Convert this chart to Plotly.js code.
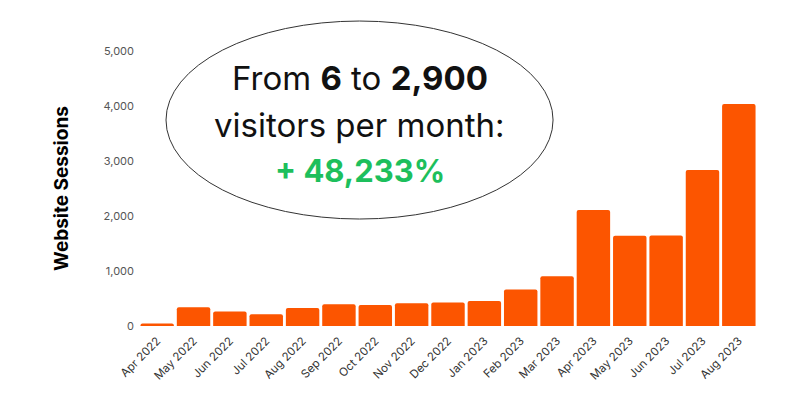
<!DOCTYPE html>
<html>
<head>
<meta charset="utf-8">
<script src="https://cdn.plot.ly/plotly-3.0.1.min.js"></script>
<style>html,body{margin:0;padding:0;background:#fff}#chart{width:800px;height:400px}</style>
</head>
<body>
<div id="chart"></div>
<script>
const months = ["Apr 2022","May 2022","Jun 2022","Jul 2022","Aug 2022","Sep 2022","Oct 2022","Nov 2022","Dec 2022","Jan 2023","Feb 2023","Mar 2023","Apr 2023","May 2023","Jun 2023","Jul 2023","Aug 2023"];
const sessions = [45, 340, 262, 213, 328, 395, 383, 413, 426, 455, 663, 905, 2107, 1639, 1646, 2836, 4038];
const yTicks = [0, 1000, 2000, 3000, 4000, 5000];
const yTickText = ["0", "1,000", "2,000", "3,000", "4,000", "5,000"];

const trace = {
  type: "bar",
  x: months,
  y: sessions,
  marker: {color: "#fc5500", line: {width: 0}},
  hoverinfo: "x+y"
};

const layout = {
  width: 800, height: 400,
  margin: {l: 139, r: 43, t: 51, b: 74},
  paper_bgcolor: "#fff", plot_bgcolor: "#fff",
  bargap: 0.08,
  barcornerradius: 2,
  showlegend: false,
  font: {family: "Inter, 'Open Sans', sans-serif", color: "#444"},
  xaxis: {
    type: "category",
    tickangle: -45,
    tickfont: {size: 11.5, color: "#333", family: "Inter, sans-serif"},
    showgrid: false, zeroline: false, showline: false,
    ticks: "", ticklabelstandoff: 5
  },
  yaxis: {
    range: [0, 5000],
    tickvals: yTicks, ticktext: yTickText,
    tickfont: {size: 11, color: "#555", family: "Inter, sans-serif"},
    showgrid: false, zeroline: false, showline: false,
    ticks: "", ticklen: 0, ticklabelstandoff: 4,
    title: {text: "<b>Website Sessions</b>", font: {size: 19, color: "#000", family: "Inter, sans-serif"}, standoff: 29}
  },
  shapes: [{
    type: "circle", xref: "paper", yref: "paper",
    x0: 0.0437, x1: 0.67, y0: 0.389, y1: 1.109,
    line: {color: "#333", width: 1}, fillcolor: "rgba(255,255,255,0)", layer: "above"
  }],
  annotations: [
    {xref: "paper", yref: "paper", x: 0.357, y: 0.902, yanchor: "middle", showarrow: false,
     text: "From <b>6</b> to <b>2,900</b>", font: {size: 33, color: "#111", family: "Inter, sans-serif"}},
    {xref: "paper", yref: "paper", x: 0.357, y: 0.731, yanchor: "middle", showarrow: false,
     text: "visitors per month:", font: {size: 33, color: "#111", family: "Inter, sans-serif"}},
    {xref: "paper", yref: "paper", x: 0.357, y: 0.567, yanchor: "middle", showarrow: false,
     text: "<b>+ 48,233%</b>", font: {size: 31, color: "#1dbf5c", family: "Inter, sans-serif"}}
  ]
};

Plotly.newPlot("chart", [trace], layout, {displayModeBar: false, staticPlot: true});
</script>
</body>
</html>
